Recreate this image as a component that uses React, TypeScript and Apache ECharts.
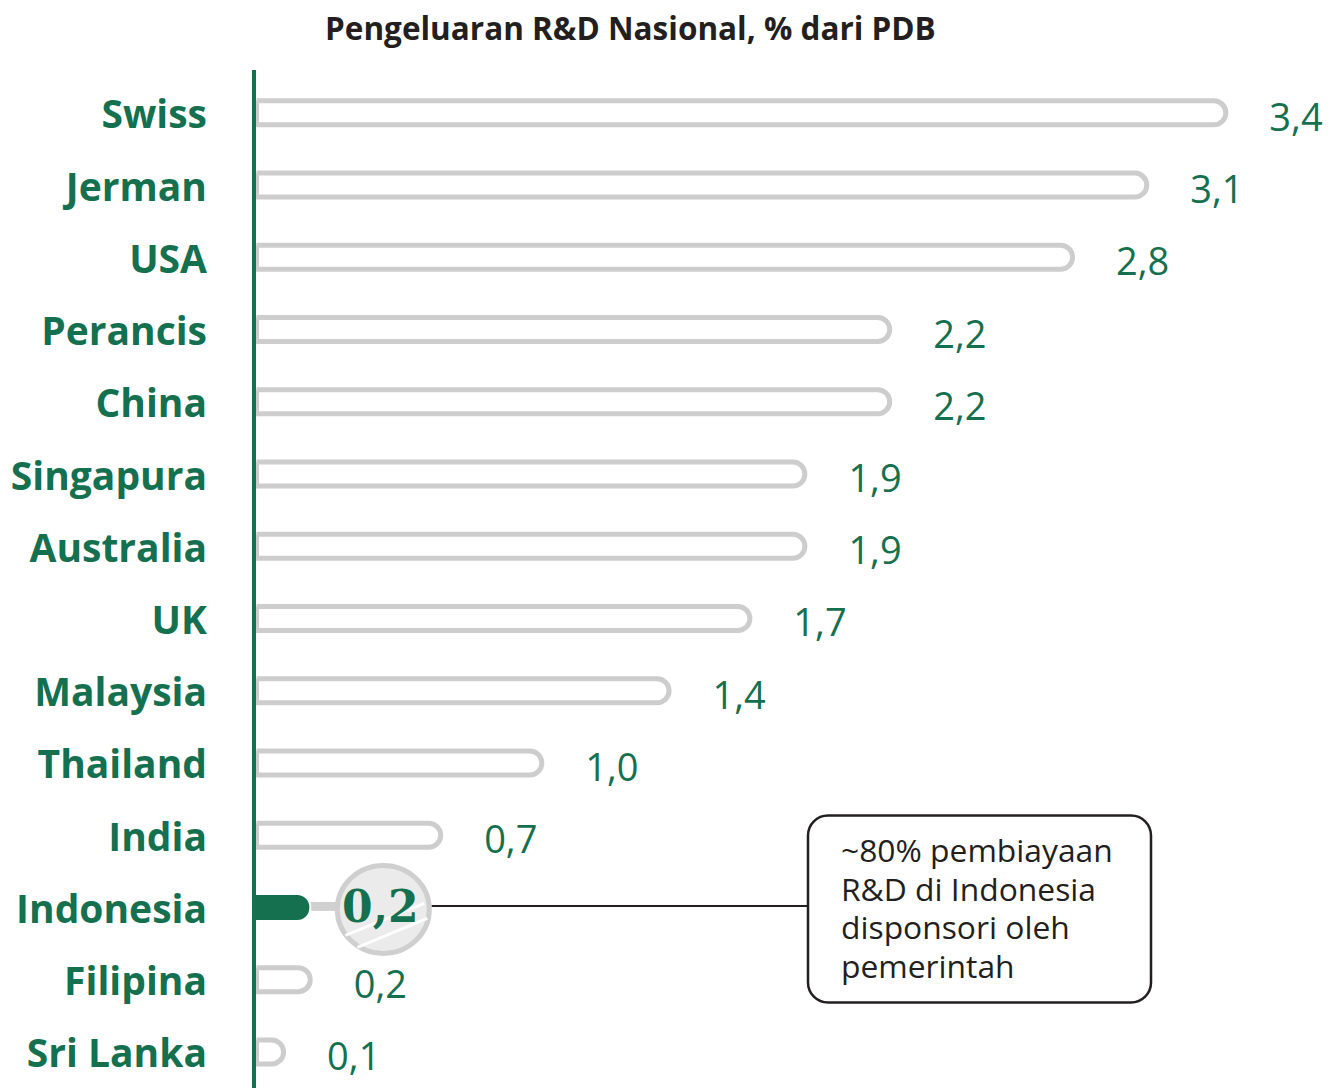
import React, { useEffect, useRef } from "react";
import * as echarts from "echarts";

const titleText = "Pengeluaran R&D Nasional, % dari PDB";
const categories = [
  "Swiss", "Jerman", "USA", "Perancis", "China", "Singapura", "Australia",
  "UK", "Malaysia", "Thailand", "India", "Indonesia", "Filipina", "Sri Lanka",
];
const values = [3.4, 3.124, 2.865, 2.227, 2.227, 1.931, 1.931, 1.739, 1.457, 1.013, 0.66, 0.2, 0.205, 0.112];
const valueLabels = ["3,4", "3,1", "2,8", "2,2", "2,2", "1,9", "1,9", "1,7", "1,4", "1,0", "0,7", "0,2", "0,2", "0,1"];
const highlightCategory = "Indonesia";
const noteLines = ["~80% pembiayaan", "R&D di Indonesia", "disponsori oleh", "pemerintah"];

const GREEN = "#14704f";
const GRAY = "#cdcdcd";
const DARK = "#231f20";
const FONT = "'Open Sans', 'Noto Sans', sans-serif";

export default function App() {
  const ref = useRef<HTMLDivElement>(null);

  useEffect(() => {
    if (!ref.current) return;
    const chart = echarts.init(ref.current, undefined, { renderer: "svg" });
    const hi = categories.indexOf(highlightCategory);

    chart.setOption({
      animation: false,
      backgroundColor: "#ffffff",
      title: {
        text: titleText,
        left: 320,
        top: 6,
        textStyle: { fontFamily: FONT, fontSize: 31.5, fontWeight: "bold", color: DARK },
      },
      grid: { left: 254, top: 76.75, width: 1089, height: 1015 },
      xAxis: {
        type: "value",
        min: 0,
        max: 3.8,
        show: false,
      },
      yAxis: {
        type: "category",
        data: categories,
        inverse: true,
        z: 10,
        axisLine: { show: true, lineStyle: { color: GREEN, width: 4 } },
        axisTick: { show: false },
        splitLine: { show: false },
        axisLabel: {
          margin: 47,
          fontFamily: FONT,
          fontSize: 39,
          fontWeight: "bold",
          color: GREEN,
          padding: [3, 0, 0, 0],
        },
      },
      series: [
        {
          type: "bar",
          silent: true,
          barWidth: 29,
          data: values.map((v, i) =>
            i === hi
              ? {
                  value: v,
                  itemStyle: {
                    color: GREEN,
                    borderColor: "#ffffff",
                    borderWidth: 2,
                    borderRadius: [0, 13, 13, 0],
                  },
                  label: { show: false },
                }
              : {
                  value: v,
                  itemStyle: {
                    color: "#ffffff",
                    borderColor: GRAY,
                    borderWidth: 5,
                    borderRadius: [0, 14, 14, 0],
                  },
                }
          ),
          label: {
            show: true,
            position: "right",
            distance: 41,
            formatter: (p: any) => valueLabels[p.dataIndex],
            fontFamily: FONT,
            fontSize: 38,
            color: GREEN,
            offset: [0, 3],
          },
        },
      ],
    });

    const end = chart.convertToPixel({ gridIndex: 0 }, [values[hi], hi]) as number[];
    const axisX = chart.convertToPixel({ gridIndex: 0 }, [0, 0]) as number[];
    const bx = end[0];
    const by = end[1];
    const cx = bx + 72;
    const cy = by + 2;
    const rx = 46;
    const ry = 44;
    const boxX = 808;
    const boxY = by - 92;
    const boxW = 343;
    const boxH = 187;
    const lineStep = 38.7;

    const noteTexts = noteLines.map((line, k) => ({
      type: "text",
      silent: true,
      z: 3,
      x: boxX + 33,
      y: boxY + 34 + k * lineStep,
      style: {
        text: line,
        fontFamily: FONT,
        fontSize: 31.8,
        lineHeight: lineStep - 2,
        fill: DARK,
        align: "left",
        verticalAlign: "middle",
      },
    }));

    chart.setOption({
      graphic: [
        {
          type: "line",
          silent: true,
          z: 1,
          shape: { x1: axisX[0], y1: 70, x2: axisX[0], y2: 80 },
          style: { stroke: GREEN, lineWidth: 4 },
        },
        {
          type: "line",
          silent: true,
          z: 1,
          shape: { x1: bx - 4, y1: by - 1, x2: cx - rx, y2: by - 1 },
          style: { stroke: "#d0d0d0", lineWidth: 9 },
        },
        {
          type: "line",
          silent: true,
          z: 1,
          shape: { x1: cx + rx + 2, y1: by - 1.5, x2: boxX, y2: by - 1.5 },
          style: { stroke: DARK, lineWidth: 2 },
        },
        {
          type: "ellipse",
          silent: true,
          z: 2,
          shape: { cx, cy, rx, ry },
          style: { fill: "#ebebec", stroke: "#cfcfcf", lineWidth: 5 },
        },
        {
          type: "line",
          silent: true,
          z: 3,
          shape: { x1: cx - 38, y1: cy + 26, x2: cx + 41, y2: cy - 6 },
          style: { stroke: "#ffffff", lineWidth: 3, opacity: 0.9 },
        },
        {
          type: "line",
          silent: true,
          z: 3,
          shape: { x1: cx - 26, y1: cy + 38, x2: cx + 44, y2: cy + 9 },
          style: { stroke: "#ffffff", lineWidth: 3, opacity: 0.9 },
        },
        {
          type: "text",
          silent: true,
          z: 4,
          x: cx - 3,
          y: cy - 3,
          style: {
            text: valueLabels[hi],
            fontFamily: "'DejaVu Serif', serif",
            fontWeight: "bold",
            fontSize: 44,
            fill: GREEN,
            align: "center",
            verticalAlign: "middle",
          },
        },
        {
          type: "rect",
          silent: true,
          z: 2,
          shape: { x: boxX, y: boxY, width: boxW, height: boxH, r: 20 },
          style: { fill: "#ffffff", stroke: DARK, lineWidth: 2.5 },
        },
        ...noteTexts,
      ],
    });

    return () => chart.dispose();
  }, []);

  return (
    <div
      ref={ref}
      style={{ position: "absolute", left: 0, top: 0, width: 1343, height: 1088 }}
    />
  );
}
